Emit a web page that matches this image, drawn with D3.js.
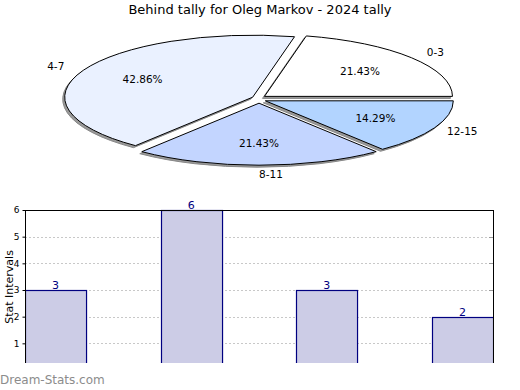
<!DOCTYPE html>
<html><head><meta charset="utf-8">
<script src="https://cdn.jsdelivr.net/npm/d3@7/dist/d3.min.js"></script>
<style>
body{margin:0;background:#fff;}
svg{display:block;font-family:"DejaVu Sans",sans-serif;}
</style></head>
<body><svg id="c" width="520" height="390"></svg>
<script>
const title = "Behind tally for Oleg Markov - 2024 tally";
const categories = ["0-3","4-7","8-11","12-15"];
const values = [3,6,3,2];
const pieColors = ["#ffffff","#eaf1ff","#c3d5ff","#b2d4ff"];
const yTicks = [1,2,3,4,5,6];
const yLabel = "Stat Intervals";
const watermark = "Dream-Stats.com";

const svg = d3.select("#c");
svg.append("rect").attr("width",520).attr("height",390).attr("fill","#fff");

svg.append("text").attr("x",260).attr("y",14).attr("text-anchor","middle")
  .attr("font-size",13).attr("fill","#000").text(title);

// ---- 3D-ish exploded pie ----
const cx = 259, cy = 99, rx = 188, ry = 62, ex = 7, eyScale = 0.6;
const total = d3.sum(values);
const arcs = d3.pie().sort(null).value(d=>d)(values);
const pt = (a, r=1) => [cx + r*rx*Math.cos(a), cy - r*ry*Math.sin(a)];
function slicePath(d, ox, oy){
  const a0 = d.startAngle, a1 = d.endAngle;
  const p0 = pt(a0), p1 = pt(a1);
  const large = (a1-a0) > Math.PI ? 1 : 0;
  return `M${cx+ox},${cy+oy}L${p0[0]+ox},${p0[1]+oy}A${rx},${ry} 0 ${large} 0 ${p1[0]+ox},${p1[1]+oy}Z`;
}
const offs = arcs.map(d=>{const m=(d.startAngle+d.endAngle)/2; return [ex*Math.cos(m), -ex*eyScale*Math.sin(m)];});
const pieG = svg.append("g");
pieG.selectAll("path.sh").data(arcs).join("path").attr("class","sh")
  .attr("d",(d,i)=>slicePath(d, offs[i][0]-2, offs[i][1]+2))
  .attr("fill","#999").attr("stroke","#888").attr("stroke-width",1);
pieG.selectAll("path.sl").data(arcs).join("path").attr("class","sl")
  .attr("d",(d,i)=>slicePath(d, offs[i][0], offs[i][1]))
  .attr("fill",(d,i)=>pieColors[i]).attr("stroke","#000").attr("stroke-width",1)
  .attr("stroke-linejoin","miter");
const fmt = v => (v/total*100).toFixed(2)+"%";
pieG.selectAll("text.pct").data(arcs).join("text").attr("class","pct")
  .attr("x",(d,i)=>pt((d.startAngle+d.endAngle)/2,0.65)[0]+offs[i][0])
  .attr("y",(d,i)=>pt((d.startAngle+d.endAngle)/2,0.65)[1]+offs[i][1])
  .attr("dy","0.35em").attr("text-anchor","middle").attr("font-size",10.5)
  .text(d=>fmt(d.value));
pieG.selectAll("text.lab").data(arcs).join("text").attr("class","lab")
  .attr("x",(d,i)=>pt((d.startAngle+d.endAngle)/2,1.2)[0])
  .attr("y",(d,i)=>pt((d.startAngle+d.endAngle)/2,1.22)[1])
  .attr("dy","0.35em")
  .attr("text-anchor",d=>Math.abs(Math.cos((d.startAngle+d.endAngle)/2))<0.3?"start":"middle")
  .attr("font-size",10.5)
  .text((d,i)=>categories[i]);

// ---- bar chart ----
const L=25, R=493, T=210, B=363;
const x = d3.scaleBand().domain(categories).range([L,R]).paddingInner(0.55).paddingOuter(0);
const y = d3.scaleLinear().domain([0,6]).range([370,T]);
const g = svg.append("g");
g.append("clipPath").attr("id","clip").append("rect").attr("x",L).attr("y",T-20).attr("width",R-L+1).attr("height",B-T+20);
// grid
g.selectAll("line.grid").data(yTicks.filter(t=>t<6)).join("line").attr("class","grid")
  .attr("x1",L).attr("x2",R).attr("y1",d=>Math.round(y(d))+0.5).attr("y2",d=>Math.round(y(d))+0.5)
  .attr("stroke","#c8c8c8").attr("stroke-dasharray","2,2");
// right-side inner ticks
g.selectAll("line.rt").data(yTicks).join("line").attr("class","rt")
  .attr("x1",R-4).attr("x2",R).attr("y1",d=>Math.round(y(d))+0.5).attr("y2",d=>Math.round(y(d))+0.5)
  .attr("stroke","#999");
// bars
const bg = g.append("g").attr("clip-path","url(#clip)");
bg.selectAll("rect").data(values).join("rect")
  .attr("x",(d,i)=>Math.round(x(categories[i]))+0.5)
  .attr("y",d=>Math.round(y(d))+0.5)
  .attr("width",x.bandwidth())
  .attr("height",d=>y(0)-y(d)+5)
  .attr("fill","#cccce6").attr("stroke","#000080").attr("stroke-width",1.2);
// borders
g.append("line").attr("x1",L).attr("x2",R+0.5).attr("y1",T+0.5).attr("y2",T+0.5).attr("stroke","#000");
g.append("line").attr("x1",R+0.5).attr("x2",R+0.5).attr("y1",T).attr("y2",B).attr("stroke","#000");
// left axis
const ax = g.append("g").attr("transform",`translate(${L+0.5},0)`)
  .call(d3.axisLeft(y).tickValues(yTicks).tickSize(3).tickSizeOuter(0).tickFormat(d3.format("d")));
ax.select(".domain").remove();
ax.append("line").attr("x1",0).attr("x2",0).attr("y1",T).attr("y2",B).attr("stroke","#000");
ax.selectAll("text").attr("font-size",9).attr("font-family","DejaVu Sans").attr("fill","#000");
ax.selectAll(".tick line").attr("stroke","#000");
// value labels
g.selectAll("text.val").data(values).join("text").attr("class","val")
  .attr("x",(d,i)=>x(categories[i])+x.bandwidth()/2)
  .attr("y",d=>y(d)-1)
  .attr("text-anchor","middle").attr("font-size",11).attr("fill","#000080")
  .text(d=>d);
// y label
svg.append("text").attr("transform","translate(13,287) rotate(-90)")
  .attr("text-anchor","middle").attr("font-size",11).text(yLabel);
// watermark
svg.append("text").attr("x",0).attr("y",384).attr("font-size",12)
  .attr("fill","#8c8c8c").text(watermark);
</script></body></html>
